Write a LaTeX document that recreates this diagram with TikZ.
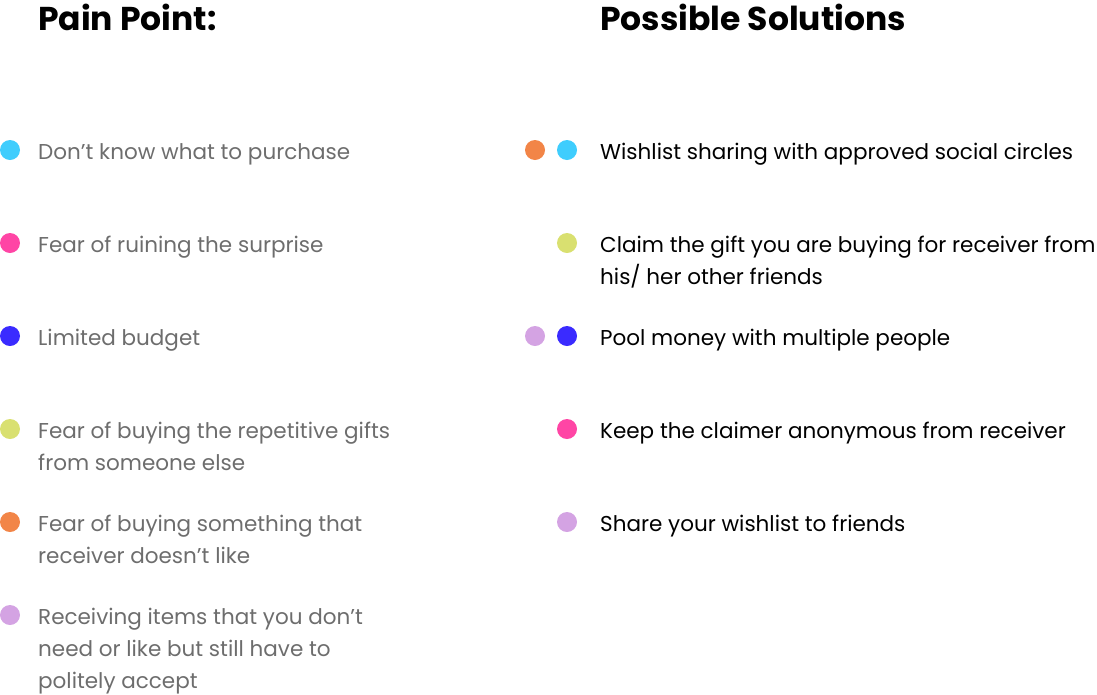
\documentclass[tikz,border=0pt]{standalone}
\usepackage{fontspec}
\setmainfont{Poppins}
\usetikzlibrary{positioning}
\definecolor{dotcyan}{HTML}{3FCDFD}
\definecolor{dotpink}{HTML}{FF45A5}
\definecolor{dotblue}{HTML}{3A2BFF}
\definecolor{dotlime}{HTML}{D9E070}
\definecolor{dotorange}{HTML}{F28547}
\definecolor{dotlilac}{HTML}{D4A3E3}
\definecolor{paingray}{HTML}{6D6D6D}

\begin{document}
\begin{tikzpicture}[x=1pt, y=-1pt,
    dot/.style={circle, inner sep=0pt, minimum size=20pt},
    heading/.style={anchor=base west, inner sep=0pt, font=\fontsize{33}{40}\selectfont\bfseries},
    pain/.style={anchor=base west, align=left, inner sep=0pt, text=paingray, font=\fontsize{21.5}{32}\selectfont},
    fix/.style={anchor=base west, align=left, inner sep=0pt, text=black, font=\fontsize{21.5}{32}\selectfont}]
  \useasboundingbox (0,0) rectangle (1097,694);

  % headings
  \node[heading] (PainHead) at (38,30) {Pain Point:};
  \node[heading] (SolHead) at (600,30) {Possible Solutions};

  % pain points (base = last line)
  \node[dot, fill=dotcyan] (PDot1) at (10,150) {};
  \node[pain] (Pain1) at (38,159) {Don’t know what to purchase};
  \node[dot, fill=dotpink] (PDot2) at (10,243) {};
  \node[pain] (Pain2) at (38,252) {Fear of ruining the surprise};
  \node[dot, fill=dotblue] (PDot3) at (10,336) {};
  \node[pain] (Pain3) at (38,345) {Limited budget};
  \node[dot, fill=dotlime] (PDot4) at (10,429) {};
  \node[pain] (Pain4) at (38,470) {Fear of buying the repetitive gifts\\from someone else};
  \node[dot, fill=dotorange] (PDot5) at (10,522) {};
  \node[pain] (Pain5) at (38,563) {Fear of buying something that\\receiver doesn’t like};
  \node[dot, fill=dotlilac] (PDot6) at (10,615) {};
  \node[pain] (Pain6) at (38,688) {Receiving items that you don’t\\need or like but still have to\\politely accept};

  % solutions
  \node[dot, fill=dotorange] (SDot1b) at (535,150) {};
  \node[dot, fill=dotcyan] (SDot1) at (567,150) {};
  \node[fix] (Sol1) at (600,159) {Wishlist sharing with approved social circles};
  \node[dot, fill=dotlime] (SDot2) at (567,243) {};
  \node[fix] (Sol2) at (600,284) {Claim the gift you are buying for receiver from\\his/ her other friends};
  \node[dot, fill=dotlilac] (SDot3b) at (535,336) {};
  \node[dot, fill=dotblue] (SDot3) at (567,336) {};
  \node[fix] (Sol3) at (600,345) {Pool money with multiple people};
  \node[dot, fill=dotpink] (SDot4) at (567,429) {};
  \node[fix] (Sol4) at (600,438) {Keep the claimer anonymous from receiver};
  \node[dot, fill=dotlilac] (SDot5) at (567,522) {};
  \node[fix] (Sol5) at (600,531) {Share your wishlist to friends};
\end{tikzpicture}
\end{document}
